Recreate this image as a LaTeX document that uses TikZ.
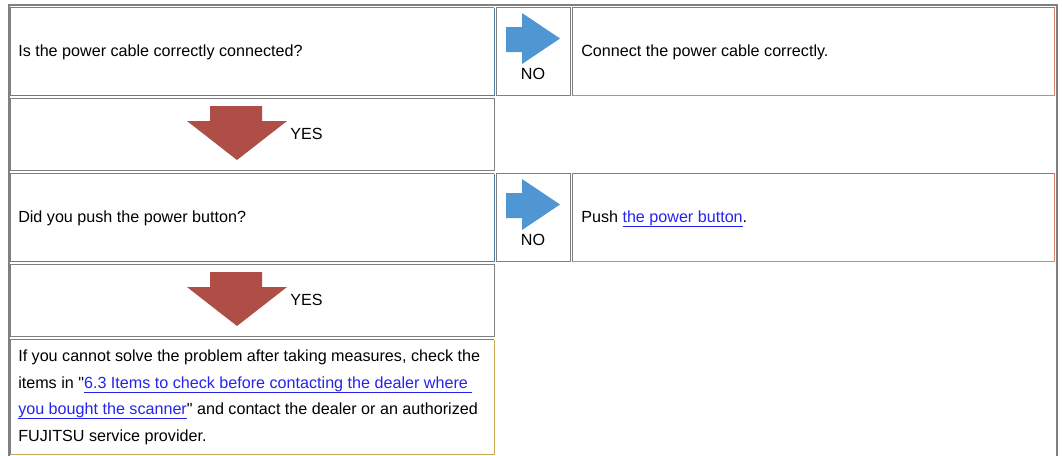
\documentclass[tikz,border=0pt]{standalone}
\usepackage{fontspec}
\setmainfont{Liberation Sans}[Ligatures=TeXOff]
\usepackage{tikz}

\definecolor{cellgray}{RGB}{128,128,128}
\definecolor{edgeblue}{RGB}{82,124,162}
\definecolor{edgesalmon}{RGB}{217,134,110}
\definecolor{edgegold}{RGB}{200,170,82}
\definecolor{noblue}{RGB}{80,150,211}
\definecolor{yesred}{RGB}{174,78,70}
\definecolor{linkblue}{RGB}{36,36,236}

% link text: blue with a 1px rule just under the descenders
\newcommand{\lnk}[1]{\textcolor{linkblue}{\setbox0=\hbox{#1}\rlap{\vrule height -2.9pt depth 3.6pt width \wd0}\box0}}

\tikzset{
  cellline/.style={draw=cellgray, line width=0.75pt},
  txt/.style={anchor=base west, inner sep=0pt},
  lbl/.style={anchor=base, inner sep=0pt},
}

\begin{document}
\begin{tikzpicture}[x=0.75pt, y=-0.75pt, font=\fontsize{12.1}{20}\selectfont]
\useasboundingbox (0,0) rectangle (1062,455);
\fill[white] (0,0) rectangle (1062,455);

% outer frame of the table
\draw[cellgray, line width=1.5pt] (9,456) -- (9,5) -- (1057,5) -- (1057,456);

% cell corners (nw = top-left, se = bottom-right)
\coordinate (a1nw) at (10.5,7.5);   \coordinate (a1se) at (494,95.5);
\coordinate (b1nw) at (496.5,7.5);  \coordinate (b1se) at (570,95.5);
\coordinate (c1nw) at (572.5,7.5);  \coordinate (c1se) at (1054.5,95.5);
\coordinate (a2nw) at (10.5,98.5);  \coordinate (a2se) at (494,170.5);
\coordinate (a3nw) at (10.5,173.5); \coordinate (a3se) at (494,261.5);
\coordinate (b3nw) at (496.5,173.5);\coordinate (b3se) at (570,261.5);
\coordinate (c3nw) at (572.5,173.5);\coordinate (c3se) at (1054.5,261.5);
\coordinate (a4nw) at (10.5,264.5); \coordinate (a4se) at (494,336.5);
\coordinate (a5nw) at (10.5,339.5); \coordinate (a5se) at (494,454.5);

% first question row
\draw[cellline] (a1nw |- a1se) -- (a1nw) -- (a1nw -| a1se);
\draw[cellline, edgeblue] (a1nw |- a1se) -- (a1se) -- (a1nw -| a1se);
\draw[cellline] (b1nw) rectangle (b1se);
\draw[cellline] (c1nw |- c1se) -- (c1nw) -- (c1nw -| c1se);
\draw[cellline, edgesalmon] (c1nw |- c1se) -- (c1se) -- (c1nw -| c1se);

% first yes row
\draw[cellline] (a2nw) rectangle (a2se);

% second question row
\draw[cellline] (a3nw |- a3se) -- (a3nw) -- (a3nw -| a3se);
\draw[cellline, edgeblue] (a3nw |- a3se) -- (a3se) -- (a3nw -| a3se);
\draw[cellline] (b3nw) rectangle (b3se);
\draw[cellline] (c3nw |- c3se) -- (c3nw) -- (c3nw -| c3se);
\draw[cellline, edgesalmon] (c3nw |- c3se) -- (c3se) -- (c3nw -| c3se);

% second yes row
\draw[cellline] (a4nw) rectangle (a4se);

% closing note
\draw[cellline] (a5nw |- a5se) -- (a5nw) -- (a5nw -| a5se);
\draw[cellline, edgegold] (a5nw |- a5se) -- (a5se) -- (a5nw -| a5se);

% NO arrows (pointing right)
\coordinate (noarr1) at (506,27);
\coordinate (noarr2) at (506,193);
\fill[noblue] (noarr1) -- ++(16,0) -- ++(0,-14) -- ++(38,25.5) -- ++(-38,25.5) -- ++(0,-12) -- ++(-16,0) -- cycle;
\fill[noblue] (noarr2) -- ++(16,0) -- ++(0,-14) -- ++(38,25.5) -- ++(-38,25.5) -- ++(0,-12) -- ++(-16,0) -- cycle;

% YES arrows (pointing down)
\coordinate (yesarr1) at (210,106);
\coordinate (yesarr2) at (210,272);
\fill[yesred] (yesarr1) -- ++(52,0) -- ++(0,15) -- ++(25,0) -- ++(-50,39) -- ++(-50,-39) -- ++(23,0) -- cycle;
\fill[yesred] (yesarr2) -- ++(52,0) -- ++(0,15) -- ++(25,0) -- ++(-50,39) -- ++(-50,-39) -- ++(23,0) -- cycle;

% texts
\node[txt] (q1) at (18,56) {Is the power cable correctly connected?};
\node[lbl] (no1) at (533,79) {NO};
\node[txt] (fix1) at (581,56) {Connect the power cable correctly.};
\node[txt] (yes1) at (290,139) {YES};

\node[txt] (q2) at (18,222) {Did you push the power button?};
\node[lbl] (no2) at (533,245) {NO};
\node[txt] (fix2) at (581,222) {Push \lnk{the power button}.};
\node[txt] (yes2) at (290,305) {YES};

\node[txt] (help1) at (18,361) {If you cannot solve the problem after taking measures, check the};
\node[txt] (help2) at (18,388) {items in "\lnk{6.3 Items to check before contacting the dealer where\ }};
\node[txt] (help3) at (18,414.5) {\lnk{you bought the scanner}" and contact the dealer or an authorized};
\node[txt] (help4) at (18,441) {FUJITSU service provider.};

\end{tikzpicture}
\end{document}
